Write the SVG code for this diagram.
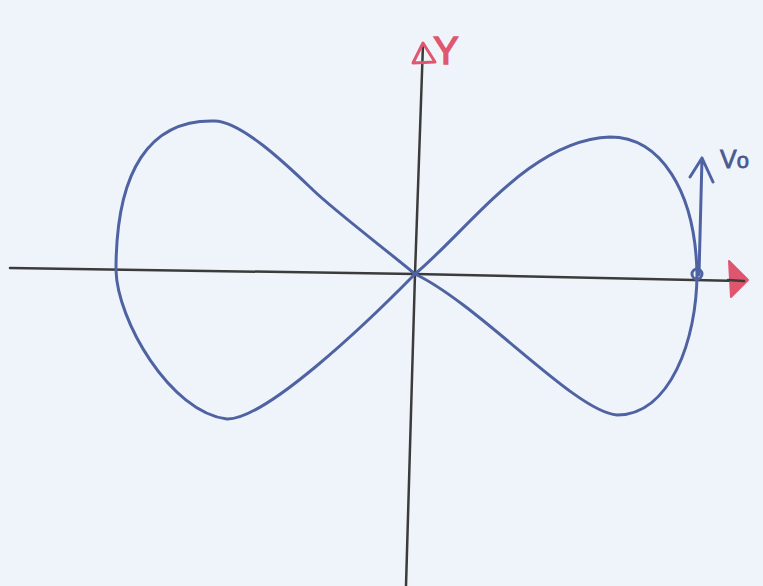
<svg xmlns="http://www.w3.org/2000/svg" width="763" height="586" viewBox="0 0 763 586">
<style>
.axis{stroke:#3b3b3b;stroke-width:2.5;fill:none;stroke-linecap:round}
.curve{stroke:#4f63a3;stroke-width:3;fill:none;stroke-linecap:round;stroke-linejoin:round}
.red{stroke:#e0566e;stroke-width:3;fill:none;stroke-linecap:round;stroke-linejoin:round}
.lbl{font-family:"Liberation Sans",Arial,sans-serif}
</style>
<rect width="763" height="586" fill="#eff4fb"/>
<g id="axes">
<path class="axis" d="M10,268 L415,274 L740,281"/>
<path class="axis" d="M406,586 L415,274 L423,44"/>
</g>
<g id="curve">
<path class="curve" d="M415,274 C380,245 335,211 313,190 C291,169 240,119 213,121 C150,120 116,170 116,270 C117,320 170,412 227,419 C265,420 365,325 415,274 C470,228 530,140 610,137 C660,137 695,190 697,273 C697,340 670,415 617,415 C575,412 480,305 415,274 Z"/>
</g>
<g id="velocity">
<circle cx="697" cy="274" r="5" class="curve" stroke-width="2.5"/>
<path class="curve" d="M699,275 L702,158 M690,177 L702,158 L713,182"/>
<text class="lbl" x="720" y="168" font-size="25" fill="#4a5a90" stroke="#4a5a90" stroke-width="0.8">V<tspan font-size="22">o</tspan></text>
</g>
<g id="arrowheads">
<path class="red" d="M413,63 L423,43 L435,62 Z" fill="#f2a0ae"/>
<path d="M729,261 L748,280 L731,297 Z" fill="#e0566e" stroke="#e0566e" stroke-width="2" stroke-linejoin="round"/>
<path class="axis" d="M728,280 L744,281"/>
</g>
<g id="ylabel">
<text class="lbl" x="446" y="64" font-size="38" fill="#e0566e" stroke="#e0566e" stroke-width="1.5" text-anchor="middle">Y</text>
</g>
</svg>
